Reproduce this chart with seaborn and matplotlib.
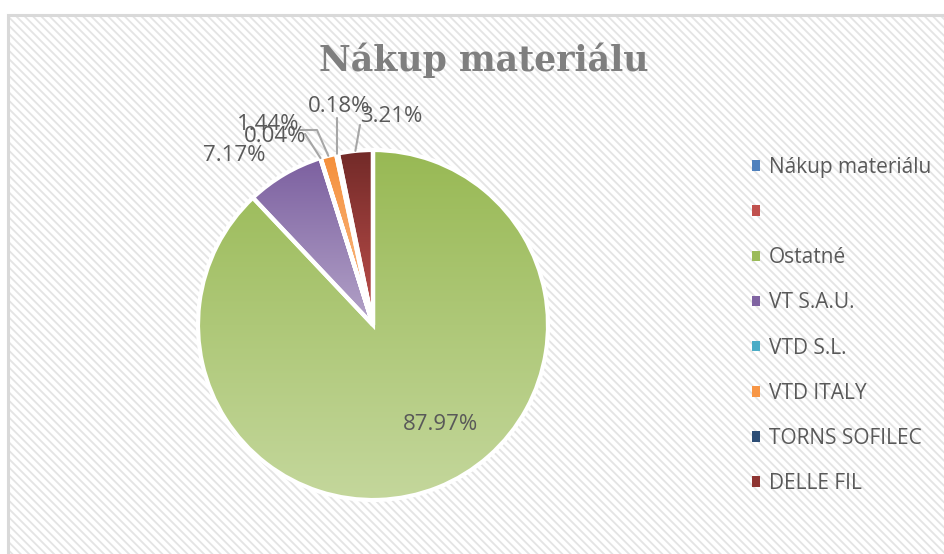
import numpy as np
import matplotlib
matplotlib.use("Agg")
import matplotlib.pyplot as plt
import seaborn as sns
from matplotlib.patches import Rectangle, Patch
from matplotlib.colors import LinearSegmentedColormap

# ---- data ----
title = "Nákup materiálu"
categories = ["Nákup materiálu", "", "Ostatné", "VT S.A.U.", "VTD S.L.",
              "VTD ITALY", "TORNS SOFILEC", "DELLE FIL"]
values = [0.0, 0.0, 87.97, 7.17, 0.04, 1.44, 0.18, 3.21]
base_colors = ["#4F81BD", "#C0504D", "#9BBB59", "#8064A2", "#4BACC6",
               "#F79646", "#2C4D75", "#8E3532"]
top_colors = ["#3F6EA8", "#A8403D", "#98B954", "#7C60A0", "#3FA2BD",
              "#F58F3A", "#284670", "#722A28"]
bottom_colors = ["#8FB0D9", "#D99694", "#C4D79C", "#B3A3C8", "#93CDDD",
                 "#FAC090", "#5B82B5", "#C0504D"]

sns.set_theme(style="white")
plt.rcParams["font.family"] = ["Open Sans", "DejaVu Sans"]
plt.rcParams["hatch.linewidth"] = 1.3

W, H = 945, 554
fig = plt.figure(figsize=(W / 100, H / 100), dpi=100)
fig.patch.set_facecolor("white")

# background with diagonal hatching
bg = Rectangle((8 / W, -0.1), 1.2, (H - 15) / H + 0.1, transform=fig.transFigure,
               facecolor="white", edgecolor="#E4E4E4", hatch="\\\\\\\\", lw=0, zorder=-3)
fig.patches.append(bg)
border = Rectangle((8 / W, -0.1), 1.2, (H - 15) / H + 0.1, transform=fig.transFigure,
                   facecolor="none", edgecolor="#D9D9D9", lw=2.2, zorder=-2)
fig.patches.append(border)

# pie axes
cx, cy, R = 373, 325, 175
ax = fig.add_axes([(cx - R) / W, (H - cy - R) / H, 2 * R / W, 2 * R / H])
ax.set_zorder(2)
ax.set_facecolor("none")
wedges, _ = ax.pie(values, colors=sns.color_palette(base_colors), startangle=90,
                   counterclock=False, radius=1,
                   wedgeprops=dict(edgecolor="white", linewidth=3))

grad = np.linspace(0, 1, 256).reshape(-1, 1)
for w, v, t, b in zip(wedges, values, top_colors, bottom_colors):
    w.set_zorder(3)
    if v <= 0:
        continue
    ext = w.get_path().get_extents()
    cmap = LinearSegmentedColormap.from_list("g", [t, b])
    im = ax.imshow(grad, cmap=cmap, extent=(ext.x0, ext.x1, ext.y0, ext.y1),
                   origin="upper", aspect="auto", zorder=2, interpolation="bilinear")
    im.set_clip_path(w)
    w.set_facecolor("none")

ax.set_xlim(-1, 1)
ax.set_ylim(-1, 1)
ax.set_aspect("equal")
ax.axis("off")

def px(x, y):
    return ((x - cx) / R, (cy - y) / R)

# label positions (pixel centers) and leader line start points
label_pos = {2: (440, 424), 3: (234, 155), 4: (275, 136), 5: (268, 124),
             6: (339, 106), 7: (391, 116)}
leader_start = {4: (305, 134), 5: (317, 130), 6: (337, 118), 7: (360, 125)}
leader_elbow = {5: (300, 130)}

total = sum(values)
cum = np.cumsum([0] + values)
label_color = "#595959"
for i, (lx, ly) in label_pos.items():
    ax.text(*px(lx, ly), f"{values[i]:.2f}%", ha="center", va="center",
            fontsize=16, color=label_color, zorder=5, clip_on=False)
    if i in leader_start:
        mid = (cum[i] + cum[i + 1]) / 2 / total
        ang = np.deg2rad(90 - 360 * mid)
        ex, ey = np.cos(ang) * 1.0, np.sin(ang) * 1.0
        sx, sy = px(*leader_start[i])
        xs, ys = [sx, ex], [sy, ey]
        if i in leader_elbow:
            bx, by = px(*leader_elbow[i])
            xs, ys = [bx, sx, ex], [by, sy, ey]
        ax.plot(xs, ys, color="#A6A6A6", lw=1.5, zorder=4, clip_on=False)

# title
fig.text(484 / W, 1 - 60 / H, title, ha="center", va="center",
         fontsize=25, fontweight="bold", color="#7F7F7F",
         family=["DejaVu Serif"])

# legend
handles = [Patch(facecolor=c, edgecolor="none") for c in base_colors]
leg = fig.legend(handles, categories, loc="upper left",
                 bbox_to_anchor=(752 / W, 1 - 157 / H), frameon=False,
                 borderaxespad=0, borderpad=0, handlelength=0.4,
                 handleheight=0.4, handletextpad=0.4, labelspacing=1.16,
                 fontsize=15)
for t in leg.get_texts():
    t.set_color(label_color)

fig.savefig("out.png", dpi=100)
